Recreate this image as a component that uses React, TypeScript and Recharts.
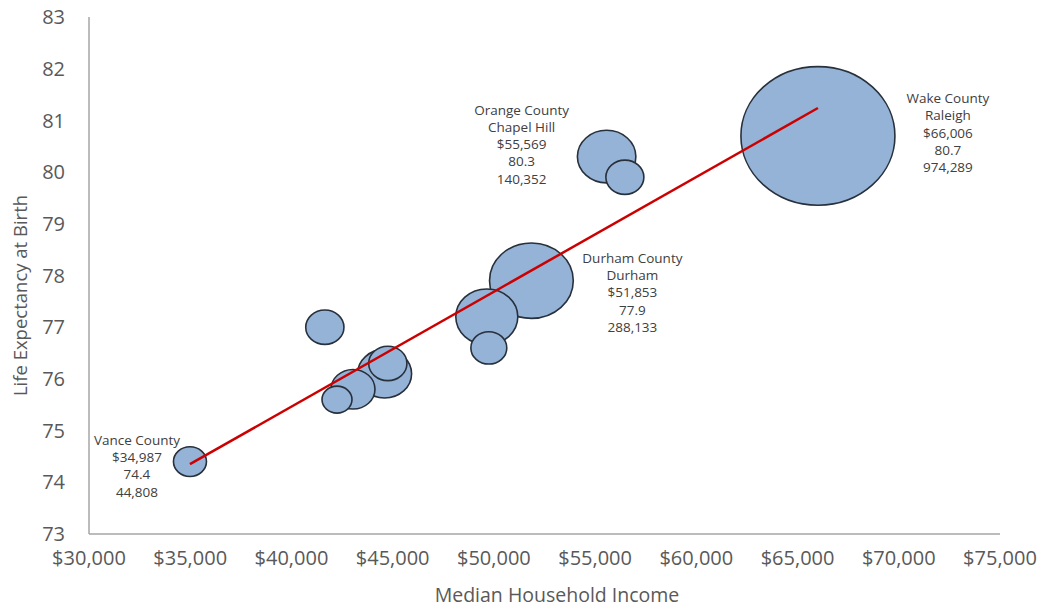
import { ScatterChart, Scatter, XAxis, YAxis, ZAxis, Label } from "recharts";

// bubbles listed largest first so the small ones sit on top
const income = [66006, 51853, 49650, 55569, 44600, 43040, 44760, 41650, 56470, 49750, 34987, 42250];
const lifeExp = [80.7, 77.9, 77.2, 80.3, 76.1, 75.8, 76.3, 77.0, 79.9, 76.6, 74.4, 75.6];
const population = [974289, 288133, 158000, 140352, 120000, 79500, 60000, 60000, 59300, 53000, 44808, 37000];
const county = ["Wake County", "Durham County", "", "Orange County", "", "", "", "", "", "", "Vance County", ""];
const city = ["Raleigh", "Durham", "", "Chapel Hill", "", "", "", "", "", "", "", ""];

// linear trend, drawn from the lowest to the highest income
const trendIncome = [34987, 66006];
const trendLife = [74.35, 81.24];

const xTicks = [30000, 35000, 40000, 45000, 50000, 55000, 60000, 65000, 70000, 75000];
const yTicks = [73, 74, 75, 76, 77, 78, 79, 80, 81, 82, 83];

// where each data label sits relative to its bubble (px)
const labelOffset: Record<string, { dx: number; dy: number }> = {
  "Wake County": { dx: 130, dy: -38 },
  "Durham County": { dx: 101, dy: -23 },
  "Orange County": { dx: -85, dy: -47 },
  "Vance County": { dx: -53, dy: -22 },
};

const FONT = "'Open Sans', sans-serif";
const FILL = "#95b3d7";
const EDGE = "#27303b";
const AXIS = "#a6a6a6";
const TICK = "#595959";

const points = income.map((x, i) => ({
  x,
  y: lifeExp[i],
  z: population[i],
  county: county[i],
  city: city[i],
}));
const labeled = points.filter((p) => p.county);
const trend = trendIncome.map((x, i) => ({ x, y: trendLife[i] }));

const money = (v: number) => `$${v.toLocaleString("en-US")}`;

function Bubble(props: any) {
  const { cx, cy, size, width } = props;
  const r = Number.isFinite(size) ? Math.sqrt(size / Math.PI) : width / 2;
  return (
    <ellipse cx={cx} cy={cy} rx={r} ry={r * 0.9} fill={FILL} stroke={EDGE} strokeWidth={1.6} />
  );
}

function DataLabel(props: any) {
  const { cx, cy, payload } = props;
  const off = labelOffset[payload.county] || { dx: 0, dy: 0 };
  const lines = [payload.county, payload.city, money(payload.x), payload.y.toFixed(1), payload.z.toLocaleString("en-US")].filter(Boolean);
  return (
    <g>
      {lines.map((t: string, i: number) => (
        <text
          key={i}
          x={cx + off.dx}
          y={cy + off.dy + i * 17.3}
          textAnchor="middle"
          dominantBaseline="central"
          fontFamily={FONT}
          fontSize={13.5}
          fill="#404040"
        >
          {t}
        </text>
      ))}
    </g>
  );
}

export default function App() {
  return (
    <div style={{ position: "absolute", left: 0, top: 0, background: "#fff" }}>
      <ScatterChart width={1037} height={608} margin={{ top: 17, right: 37, bottom: 0, left: 29 }}>
        <XAxis
          type="number"
          dataKey="x"
          domain={[30000, 75000]}
          ticks={xTicks}
          tickFormatter={money}
          interval={0}
          height={74}
          stroke={AXIS}
          strokeWidth={1.5}
          tickLine={false}
          tickMargin={11}
          tick={{ fill: TICK, fontSize: 20, fontFamily: FONT }}
        >
          <Label
            content={({ viewBox }: any) => (
              <text
                x={557}
                y={viewBox.y + 60}
                textAnchor="middle"
                dominantBaseline="central"
                fontFamily={FONT}
                fontSize={19.5}
                fill={TICK}
              >
                Median Household Income
              </text>
            )}
          />
        </XAxis>
        <YAxis
          type="number"
          dataKey="y"
          domain={[73, 83]}
          ticks={yTicks}
          interval={0}
          width={60}
          stroke={AXIS}
          strokeWidth={1.5}
          tickLine={false}
          tickMargin={18}
          tick={{ fill: TICK, fontSize: 20, fontFamily: FONT }}
        >
          <Label
            content={({ viewBox }: any) => {
              const cy = viewBox.y + viewBox.height / 2 + 20;
              return (
                <text
                  x={19}
                  y={cy}
                  transform={`rotate(-90 19 ${cy})`}
                  textAnchor="middle"
                  dominantBaseline="central"
                  fontFamily={FONT}
                  fontSize={18.5}
                  fill={TICK}
                >
                  Life Expectancy at Birth
                </text>
              );
            }}
          />
        </YAxis>
        <ZAxis type="number" dataKey="z" domain={[0, 974289]} range={[0, Math.PI * 77 * 77]} />
        <Scatter data={points} shape={Bubble} isAnimationActive={false} />
        <Scatter
          data={trend}
          line={{ stroke: "#cc0000", strokeWidth: 2.5 }}
          shape={() => <g />}
          isAnimationActive={false}
        />
        <Scatter data={labeled} shape={DataLabel} isAnimationActive={false} />
      </ScatterChart>
    </div>
  );
}
